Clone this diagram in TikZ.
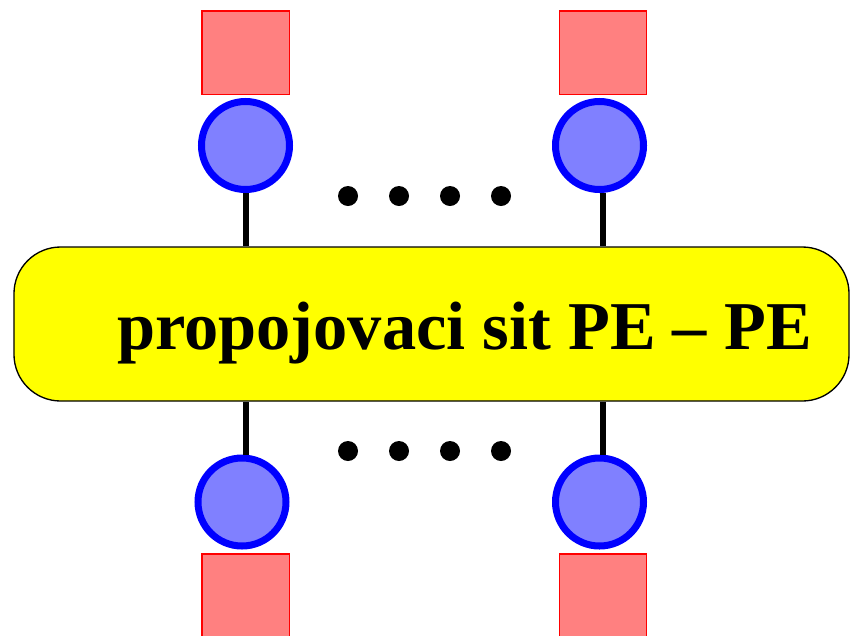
\documentclass[tikz,border=0pt]{standalone}
\usepackage{fontspec}
\setmainfont{Liberation Serif}
\usetikzlibrary{positioning}
\definecolor{Modra}{HTML}{8080FF}
\definecolor{Cervena}{HTML}{FF8080}
\definecolor{Zluta}{HTML}{FFFF00}

\begin{document}
\begin{tikzpicture}[x=0.03cm,y=-0.03cm,
  pe/.style={circle,draw=blue,fill=Modra,line width=0.21cm,minimum size=2.64cm,inner sep=0pt},
  pamet/.style={rectangle,draw=red,fill=Cervena,line width=0.04cm,minimum width=2.62cm,minimum height=2.5cm,inner sep=0pt},
  tecka/.style={circle,fill=black,minimum size=0.6cm,inner sep=0pt},
  spoj/.style={line width=0.18cm,black}]
\useasboundingbox (0,0) rectangle (850,635);
% propojovaci sit
\node[draw=black,fill=Zluta,line width=0.04cm,rounded corners=1.4cm,minimum width=25.05cm,minimum height=4.62cm,inner sep=0pt] (sit) at (431.5,324) {};
\node[anchor=base,font=\bfseries\fontsize{58.4}{70}\selectfont] (popis) at (464.5,349) {propojovaci sit PE -- PE};
% procesory a pameti
\node[pamet] (m1) at (245.5,52.5) {};
\node[pamet] (m2) at (603,52.5) {};
\node[pe] (p1) at (245.5,145.5) {};
\node[pe] (p2) at (599.5,145.5) {};
\node[pe] (p3) at (242,502) {};
\node[pe] (p4) at (599.5,502) {};
\node[pamet] (m3) at (245.5,595.5) {};
\node[pamet] (m4) at (603,595.5) {};
\draw[spoj] ([xshift=0.015cm]p1.south) -- ([xshift=0.015cm]p1.south |- sit.north);
\draw[spoj] ([xshift=0.105cm]p2.south) -- ([xshift=0.105cm]p2.south |- sit.north);
\draw[spoj] ([xshift=0.12cm]p3.north) -- ([xshift=0.12cm]p3.north |- sit.south);
\draw[spoj] ([xshift=0.105cm]p4.north) -- ([xshift=0.105cm]p4.north |- sit.south);
% tecky
\foreach \x/\n in {348/1,399/2,450/3,501/4}{
  \node[tecka] (h\n) at (\x,196) {};
  \node[tecka] (d\n) at (\x,451) {};
}
\end{tikzpicture}
\end{document}
